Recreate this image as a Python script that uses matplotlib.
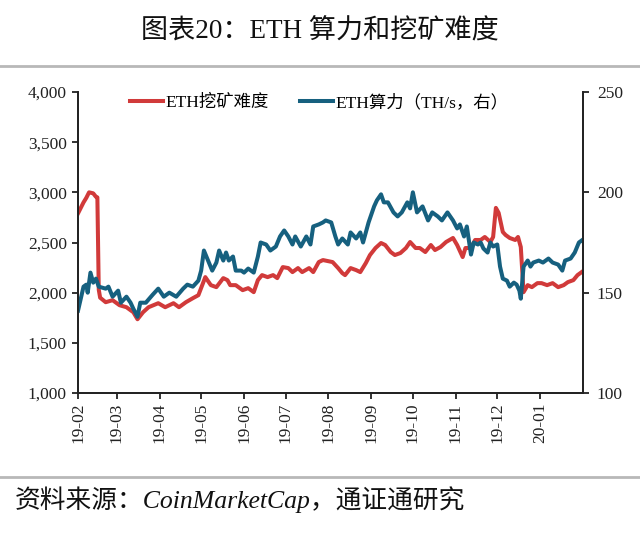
import matplotlib
matplotlib.use("Agg")
import matplotlib.pyplot as plt
import matplotlib.dates as mdates
import pandas as pd

plt.rcParams['font.family'] = ['Liberation Serif', 'Noto Sans CJK SC', 'DejaVu Sans']

start_date = "2019-02-01"
end_date = "2020-01-31"

# ETH mining difficulty (left axis), day offsets from 2019-02-01
diff_days = [0, 4, 6, 8, 11, 13, 14, 15, 16, 20, 25, 30, 35, 40, 43, 47, 51, 58, 63, 69, 73, 78, 83, 87,
             92, 96, 100, 105, 108, 110, 114, 119, 123, 127, 130, 133, 137, 141, 144, 148, 152, 155, 159,
             162, 167, 170, 174, 177, 184, 188, 191, 193, 197, 201, 204, 208, 211, 215, 219, 222, 226, 229,
             233, 237, 240, 244, 247, 251, 255, 258, 262, 266, 271, 274, 278, 280, 284, 287, 291, 294, 298,
             300, 302, 304, 307, 309, 312, 316, 318, 320, 322, 325, 328, 332, 335, 339, 343, 347, 351, 354,
             358, 361, 364]
diff_vals = [2790, 2900, 2945, 3000, 2990, 2955, 2950, 2030, 1950, 1905, 1925, 1875, 1855, 1805, 1735, 1805,
             1855, 1895, 1855, 1895, 1855, 1905, 1945, 1975, 2155, 2075, 2055, 2145, 2125, 2075, 2075, 2025,
             2045, 2005, 2125, 2175, 2155, 2175, 2145, 2255, 2245, 2205, 2245, 2205, 2245, 2205, 2305, 2325,
             2305, 2245, 2195, 2175, 2245, 2225, 2205, 2295, 2375, 2445, 2495, 2475, 2405, 2375, 2395, 2445,
             2505, 2445, 2445, 2405, 2475, 2425, 2455, 2505, 2545, 2475, 2355, 2445, 2445, 2525, 2525, 2555,
             2505, 2555, 2845, 2795, 2605, 2575, 2545, 2525, 2555, 2455, 2005, 2075, 2055, 2095, 2095, 2075,
             2095, 2055, 2075, 2105, 2125, 2175, 2205]

# ETH hashrate TH/s (right axis)
hash_days = [0, 4, 6, 7, 9, 11, 13, 15, 20, 22, 25, 29, 31, 35, 38, 40, 43, 45, 49, 54, 58, 62, 66, 71, 76,
             79, 83, 87, 89, 91, 94, 97, 100, 102, 105, 107, 109, 112, 114, 118, 120, 123, 127, 130, 132, 136,
             139, 143, 146, 149, 152, 155, 157, 161, 165, 168, 170, 174, 177, 179, 183, 186, 188, 191, 195, 197,
             201, 204, 206, 210, 214, 216, 219, 221, 224, 228, 231, 234, 238, 240, 242, 245, 249, 253, 256, 260,
             263, 267, 271, 274, 276, 279, 281, 284, 286, 289, 291, 293, 296, 298, 300, 303, 305, 307, 310, 312,
             315, 317, 319, 320, 322, 325, 327, 329, 333, 336, 340, 343, 347, 350, 352, 356, 359, 362, 364]
hash_vals = [141, 153, 154, 150, 160, 155, 157, 153, 152, 153, 148, 151, 145, 148, 145, 142, 138, 145, 145,
             149, 152, 148, 150, 148, 152, 154, 153, 156, 161, 171, 166, 161, 165, 171, 166, 170, 166, 168, 161,
             161, 160, 162, 160, 168, 175, 174, 171, 173, 178, 181, 178, 174, 178, 173, 178, 174, 183, 184, 185,
             186, 185, 178, 174, 177, 174, 180, 177, 180, 175, 185, 193, 196, 199, 195, 195, 190, 188, 190, 195,
             192, 200, 190, 193, 186, 190, 188, 186, 190, 186, 182, 184, 178, 183, 169, 175, 174, 175, 172, 170,
             175, 173, 174, 163, 157, 156, 153, 155, 154, 151, 147, 163, 166, 163, 165, 166, 165, 167, 165, 164,
             161, 166, 167, 170, 175, 176]

left_ticks = [1000, 1500, 2000, 2500, 3000, 3500, 4000]
right_ticks = [100, 150, 200, 250]

title = "图表20：ETH 算力和挖矿难度"
source = "资料来源：CoinMarketCap，通证通研究"
label_diff = "ETH挖矿难度"
label_hash = "ETH算力（TH/s，右）"

red = "#d13a3a"
blue = "#16607f"

base = pd.Timestamp(start_date)
d_dates = base + pd.to_timedelta(diff_days, unit="D")
h_dates = base + pd.to_timedelta(hash_days, unit="D")

fig = plt.figure(figsize=(6.4, 5.34), dpi=100)
ax = fig.add_axes([78 / 640, 1 - 393 / 534, (583 - 78) / 640, (393 - 92) / 534])
ax2 = ax.twinx()

l1, = ax.plot(d_dates, diff_vals, color=red, lw=2.9, label=label_diff, solid_joinstyle="round")
l2, = ax2.plot(h_dates, hash_vals, color=blue, lw=2.9, label=label_hash, solid_joinstyle="round")

ax.set_xlim(pd.Timestamp(start_date), pd.Timestamp(end_date) + pd.Timedelta(hours=23))
ax.set_ylim(1000, 4000)
ax2.set_ylim(100, 250)
ax.set_yticks(left_ticks)
ax.set_yticklabels([f"{v:,}" for v in left_ticks])
ax2.set_yticks(right_ticks)
ax2.set_yticklabels([str(v) for v in right_ticks])

ax.xaxis.set_major_locator(mdates.MonthLocator())
ax.xaxis.set_major_formatter(mdates.DateFormatter("%y-%m"))
for lab in ax.get_xticklabels():
    lab.set_rotation(90)

for a in (ax, ax2):
    a.spines["top"].set_visible(False)
    for s in ("left", "right", "bottom"):
        a.spines[s].set_linewidth(1.3)
        a.spines[s].set_color("#222222")
    a.tick_params(axis="both", direction="out", length=4, width=1.3, labelsize=12.5, colors="#222222",
                  labelcolor="#222222")
ax.tick_params(axis="x", labelsize=12.5, pad=3)
ax.tick_params(axis="y", pad=4)
ax2.tick_params(axis="y", pad=6)

leg = ax.legend(handles=[l1, l2], loc="upper center", bbox_to_anchor=(0.478, 1.045), ncol=2, frameon=False,
                fontsize=12.5, handlelength=1.9, handletextpad=0.15, columnspacing=1.8)

fig.text(0.5, 1 - 32 / 534, title, ha="center", va="center", fontsize=19.5, color="#111111")
fig.add_artist(plt.Line2D([0, 1], [1 - 66 / 534, 1 - 66 / 534], color="#b8b8b8", lw=2))
fig.add_artist(plt.Line2D([0, 1], [1 - 477 / 534, 1 - 477 / 534], color="#b8b8b8", lw=2))
fig.text(15 / 640, 1 - 500 / 534, source, ha="left", va="center", fontsize=18.5, style="italic",
         color="#111111")

fig.savefig("out.png", dpi=100)
